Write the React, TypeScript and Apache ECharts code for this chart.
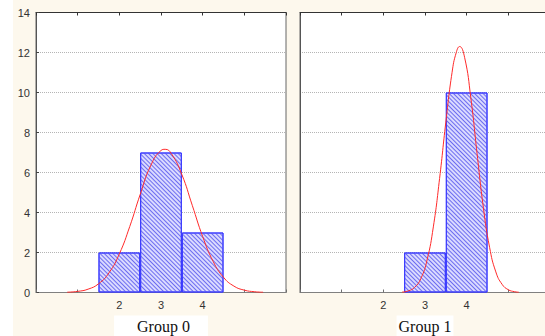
import React, { useEffect, useRef } from "react";
import * as echarts from "echarts";

const groupNames = ["Group 0", "Group 1"];
const xTickLabels = ["2", "3", "4"];
const yTicks = [0, 2, 4, 6, 8, 10, 12, 14];

const bins0 = [2, 3, 4];
const counts0 = [2, 7, 3];
const bins1 = [3, 4];
const counts1 = [2, 10];

const curve0X = [0.75, 1.0, 1.25, 1.5, 1.75, 2.0, 2.25, 2.5, 2.75, 3.0, 3.1, 3.25, 3.5, 3.75, 4.0, 4.25, 4.5, 4.75, 5.0, 5.25, 5.45];
const curve0Y = [0.016, 0.056, 0.167, 0.434, 0.98, 1.93, 3.3, 4.9, 6.33, 7.1, 7.16, 6.94, 5.9, 4.36, 2.8, 1.56, 0.76, 0.32, 0.117, 0.038, 0.014];
const curve1X = [2.45, 2.6, 2.75, 2.9, 3.05, 3.2, 3.35, 3.5, 3.65, 3.75, 3.83, 3.95, 4.1, 4.25, 4.4, 4.55, 4.7, 4.85, 5.0, 5.15, 5.25];
const curve1Y = [0.022, 0.081, 0.255, 0.695, 1.63, 3.28, 5.7, 8.52, 11.01, 12.0, 12.3, 11.76, 9.73, 6.94, 4.26, 2.26, 1.03, 0.41, 0.138, 0.04, 0.016];

const CREAM = "#fdf8ed";

export default function App() {
  const ref = useRef<HTMLDivElement>(null);
  useEffect(() => {
    document.body.style.margin = "0";
    const chart = echarts.init(ref.current!, undefined, { renderer: "svg" });
    const grids = [
      { left: 36, top: 12.5, width: 250, height: 280 },
      { left: 300, top: 12.5, width: 250, height: 280 },
    ];
    const padNames = [
      [3, 18, 3, 23],
      [3, 2, 3, 2],
    ];
    const xAxes: any[] = [];
    const yAxes: any[] = [];
    grids.forEach((_, i) => {
      xAxes.push({
        type: "value",
        gridIndex: i,
        position: "bottom",
        min: 0,
        max: 6,
        interval: 1,
        name: groupNames[i],
        nameLocation: "middle",
        nameGap: 21,
        nameTextStyle: {
          fontFamily: "Liberation Serif",
          fontSize: 16,
          color: "#111",
          backgroundColor: "#ffffff",
          padding: padNames[i],
        },
        axisLine: { show: true, lineStyle: { color: "#808080", width: 1 } },
        axisTick: { show: true, inside: true, length: 3, lineStyle: { color: "#707070" } },
        axisLabel: {
          show: true,
          margin: 7,
          fontFamily: "Liberation Sans",
          fontSize: 11,
          color: "#333",
          formatter: (v: number) => (xTickLabels.includes(String(v)) ? String(v) : ""),
        },
        splitLine: { show: false },
      });
      xAxes.push({
        type: "value",
        gridIndex: i,
        position: "top",
        min: 0,
        max: 6,
        interval: 1,
        axisLine: { show: true, lineStyle: { color: "#333", width: 1 } },
        axisTick: { show: true, inside: true, length: 3, lineStyle: { color: "#333" } },
        axisLabel: { show: false },
        splitLine: { show: false },
      });
      yAxes.push({
        type: "value",
        gridIndex: i,
        min: yTicks[0],
        max: yTicks[yTicks.length - 1],
        interval: 2,
        axisLine: { show: true, lineStyle: { color: "#555", width: 1 } },
        axisTick: { show: i === 0, inside: true, length: 3, lineStyle: { color: "#444" } },
        axisLabel: {
          show: i === 0,
          margin: 6,
          fontFamily: "Liberation Sans",
          fontSize: 11,
          color: "#333",
        },
        splitLine: { show: true, lineStyle: { color: "#b5b5b5", type: "dotted", width: 1 } },
      });
    });

    const barStyle = {
      color: "#dadaff",
      borderColor: "#3a3aff",
      borderWidth: 1,
      decal: {
        symbol: "rect",
        symbolSize: 1,
        dashArrayX: [1, 0],
        dashArrayY: [1, 1.5],
        rotation: Math.PI / 4,
        color: "#6c6cf0",
      },
    };
    const bins = [bins0, bins1];
    const counts = [counts0, counts1];
    const cx = [curve0X, curve1X];
    const cy = [curve0Y, curve1Y];
    const series: any[] = [];
    [0, 1].forEach((i) => {
      series.push({
        type: "bar",
        xAxisIndex: i * 2,
        yAxisIndex: i,
        barWidth: "100%",
        data: bins[i].map((b, k) => [b, counts[i][k]]),
        itemStyle: barStyle,
        silent: true,
      });
      series.push({
        type: "line",
        xAxisIndex: i * 2,
        yAxisIndex: i,
        smooth: true,
        showSymbol: false,
        symbol: "none",
        data: cx[i].map((x, k) => [x, cy[i][k]]),
        lineStyle: { color: "#ff2a2a", width: 1 },
        z: 5,
      });
    });

    chart.setOption({
      animation: false,
      backgroundColor: CREAM,
      grid: grids.map((g) => ({
        ...g,
        show: true,
        backgroundColor: "#ffffff",
        borderColor: "#666",
        borderWidth: 1,
        outerBoundsMode: "none",
      })),
      xAxis: xAxes,
      yAxis: yAxes,
      series,
      graphic: [
        { type: "rect", left: 0, top: 0, shape: { width: 13, height: 336 }, style: { fill: "#ffffff" }, z: -1 },
      ],
    });
    return () => chart.dispose();
  }, []);
  return <div ref={ref} style={{ width: 545, height: 336 }} />;
}
